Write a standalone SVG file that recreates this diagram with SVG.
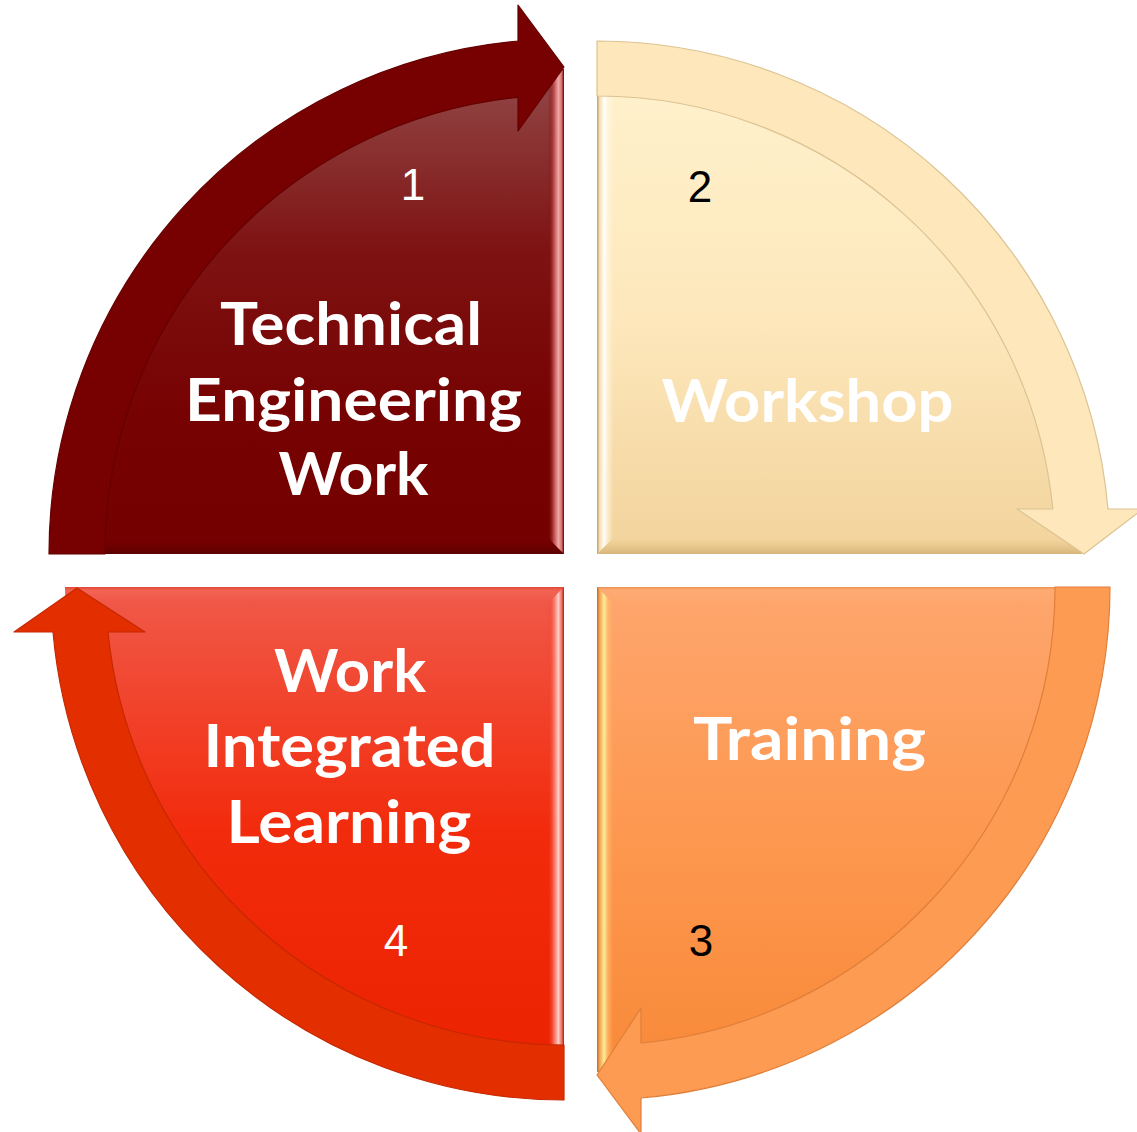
<svg xmlns="http://www.w3.org/2000/svg" width="1137" height="1132" viewBox="0 0 1137 1132">
<style>
.lbl{font-family:Lato,"Open Sans",sans-serif;font-weight:700;font-size:60px;fill:#ffffff;text-anchor:middle}
.num{font-family:"Liberation Sans",Arial,sans-serif;font-size:44px;text-anchor:middle}
</style>
<defs>
<linearGradient id="gTL" gradientUnits="userSpaceOnUse" x1="0" y1="90" x2="0" y2="554"><stop offset="0" stop-color="#904242"/><stop offset="0.35" stop-color="#7e1212"/><stop offset="0.7" stop-color="#770202"/><stop offset="1" stop-color="#740000"/></linearGradient>
<linearGradient id="gTR" gradientUnits="userSpaceOnUse" x1="0" y1="90" x2="0" y2="554"><stop offset="0" stop-color="#fff1cc"/><stop offset="0.5" stop-color="#fde7bb"/><stop offset="1" stop-color="#f2d39c"/></linearGradient>
<linearGradient id="gBR" gradientUnits="userSpaceOnUse" x1="0" y1="587" x2="0" y2="1075"><stop offset="0" stop-color="#fea66e"/><stop offset="0.5" stop-color="#fd9850"/><stop offset="1" stop-color="#f88938"/></linearGradient>
<linearGradient id="gBL" gradientUnits="userSpaceOnUse" x1="0" y1="587" x2="0" y2="1075"><stop offset="0" stop-color="#f05a4a"/><stop offset="0.5" stop-color="#f22b0c"/><stop offset="1" stop-color="#ec2200"/></linearGradient>
<linearGradient id="bTLr" gradientUnits="userSpaceOnUse" x1="548" y1="0" x2="564" y2="0"><stop offset="0" stop-color="#7a0404" stop-opacity="0"/><stop offset="0.35" stop-color="#b84848"/><stop offset="0.65" stop-color="#f2a8a8"/><stop offset="0.85" stop-color="#d87070"/><stop offset="1" stop-color="#5a0000"/></linearGradient>
<linearGradient id="bTLb" gradientUnits="userSpaceOnUse" x1="0" y1="538" x2="0" y2="554"><stop offset="0" stop-color="#780000" stop-opacity="0"/><stop offset="1" stop-color="#5a0000"/></linearGradient>
<linearGradient id="bTRl" gradientUnits="userSpaceOnUse" x1="597" y1="0" x2="613" y2="0"><stop offset="0" stop-color="#b89a68"/><stop offset="0.15" stop-color="#f4dcaa"/><stop offset="0.45" stop-color="#ffffff" stop-opacity="0.95"/><stop offset="0.75" stop-color="#fff8e0" stop-opacity="0.5"/><stop offset="1" stop-color="#ffffff" stop-opacity="0"/></linearGradient>
<linearGradient id="bTRb" gradientUnits="userSpaceOnUse" x1="0" y1="538" x2="0" y2="554"><stop offset="0" stop-color="#f0d198" stop-opacity="0"/><stop offset="0.3" stop-color="#eccb90" stop-opacity="0.6"/><stop offset="1" stop-color="#d6b47a"/></linearGradient>
<linearGradient id="bBRl" gradientUnits="userSpaceOnUse" x1="597" y1="0" x2="613" y2="0"><stop offset="0" stop-color="#c06820"/><stop offset="0.15" stop-color="#f0a050"/><stop offset="0.45" stop-color="#ffec98"/><stop offset="0.7" stop-color="#ffc070" stop-opacity="0.6"/><stop offset="1" stop-color="#ffc070" stop-opacity="0"/></linearGradient>
<linearGradient id="bBRt" gradientUnits="userSpaceOnUse" x1="0" y1="587" x2="0" y2="603"><stop offset="0" stop-color="#e88a48" stop-opacity="0.8"/><stop offset="0.2" stop-color="#ffb07a" stop-opacity="0.5"/><stop offset="1" stop-color="#ffb07a" stop-opacity="0"/></linearGradient>
<linearGradient id="bBLr" gradientUnits="userSpaceOnUse" x1="548" y1="0" x2="564" y2="0"><stop offset="0" stop-color="#f03020" stop-opacity="0"/><stop offset="0.35" stop-color="#f87868" stop-opacity="0.8"/><stop offset="0.65" stop-color="#ffd0c8"/><stop offset="0.85" stop-color="#f07060"/><stop offset="1" stop-color="#b02010"/></linearGradient>
<linearGradient id="bBLt" gradientUnits="userSpaceOnUse" x1="0" y1="587" x2="0" y2="603"><stop offset="0" stop-color="#d84030" stop-opacity="0.8"/><stop offset="0.25" stop-color="#f87060" stop-opacity="0.4"/><stop offset="1" stop-color="#f87060" stop-opacity="0"/></linearGradient>
<clipPath id="cTL"><path d="M564,554 L79,554 A485,485 0 0 1 564,69 Z"/></clipPath>
<clipPath id="cTR"><path d="M597,554 L597,69 A485,485 0 0 1 1082,554 Z"/></clipPath>
<clipPath id="cBR"><path d="M597,587 L1082,587 A485,485 0 0 1 597,1072 Z"/></clipPath>
<clipPath id="cBL"><path d="M564,587 L564,1086 A499,499 0 0 1 65,587 Z"/></clipPath>
</defs>

<g id="node-1">
<path d="M564,554 L79,554 A485,485 0 0 1 564,69 Z" fill="url(#gTL)"/>
<g clip-path="url(#cTL)">
<polygon points="60,538 548,538 564,554 60,554" fill="url(#bTLb)"/>
<polygon points="548,60 564,60 564,554 548,538" fill="url(#bTLr)"/>
</g>
<text class="num" x="413" y="200" fill="#ffffff">1</text>
<text class="lbl" x="351" y="345" textLength="262" lengthAdjust="spacingAndGlyphs">Technical</text>
<text class="lbl" x="353.5" y="421" textLength="337" lengthAdjust="spacingAndGlyphs">Engineering</text>
<text class="lbl" x="353.5" y="495" textLength="150" lengthAdjust="spacingAndGlyphs">Work</text>
</g>

<g id="node-2">
<path d="M597,554 L597,69 A485,485 0 0 1 1082,554 Z" fill="url(#gTR)"/>
<g clip-path="url(#cTR)">
<polygon points="613,538 1100,538 1100,554 597,554" fill="url(#bTRb)"/>
<polygon points="597,60 613,60 613,538 597,554" fill="url(#bTRl)"/>
</g>
<text class="num" x="700" y="202" fill="#000000">2</text>
<text class="lbl" x="807.5" y="422" textLength="292" lengthAdjust="spacingAndGlyphs">Workshop</text>
</g>

<g id="node-3">
<path d="M597,587 L1082,587 A485,485 0 0 1 597,1072 Z" fill="url(#gBR)"/>
<g clip-path="url(#cBR)">
<polygon points="597,587 1100,587 1100,603 613,603" fill="url(#bBRt)"/>
<polygon points="597,587 613,603 613,1080 597,1080" fill="url(#bBRl)"/>
</g>
<text class="lbl" x="809.5" y="760" textLength="233" lengthAdjust="spacingAndGlyphs">Training</text>
<text class="num" x="701" y="956" fill="#000000">3</text>
</g>

<g id="node-4">
<path d="M564,587 L564,1086 A499,499 0 0 1 65,587 Z" fill="url(#gBL)"/>
<g clip-path="url(#cBL)">
<polygon points="50,587 564,587 548,603 50,603" fill="url(#bBLt)"/>
<polygon points="548,603 564,587 564,1090 548,1090" fill="url(#bBLr)"/>
</g>
<text class="lbl" x="350" y="692" textLength="152" lengthAdjust="spacingAndGlyphs">Work</text>
<text class="lbl" x="349.5" y="767" textLength="292" lengthAdjust="spacingAndGlyphs">Integrated</text>
<text class="lbl" x="349" y="843" textLength="245" lengthAdjust="spacingAndGlyphs">Learning</text>
<text class="num" x="396" y="956" fill="#ffffff">4</text>
</g>

<g id="connectors">
<path id="arrow-1-2" d="M49,554 A515,515 0 0 1 518,41 L518,5 L564,67 L518,131 L518,97.3 A459,459 0 0 0 105,554 Z" fill="#770000" stroke="#650000" stroke-width="1.2" stroke-linejoin="round"/>
<path id="arrow-2-3" d="M597,41 A513,513 0 0 1 1108,509 L1143,509 L1084,554 L1017,509 L1052.8,509 A458,458 0 0 0 597,96 Z" fill="#fde7bb" stroke="#dcc393" stroke-width="1.2" stroke-linejoin="round"/>
<path id="arrow-3-4" d="M1110,587 A513,513 0 0 1 641,1098 L641,1134 L597,1075 L641,1008 L641,1043 A458,458 0 0 0 1055,587 Z" fill="#fd9b52" stroke="#e07f3a" stroke-width="1.2" stroke-linejoin="round"/>
<path id="arrow-4-1" d="M564,1100 A513,513 0 0 1 53,632 L14,632 L77,588 L145,632 L108,632 A458,458 0 0 0 564,1045 Z" fill="#e32e00" stroke="#c62800" stroke-width="1.2" stroke-linejoin="round"/>
</g>
</svg>
